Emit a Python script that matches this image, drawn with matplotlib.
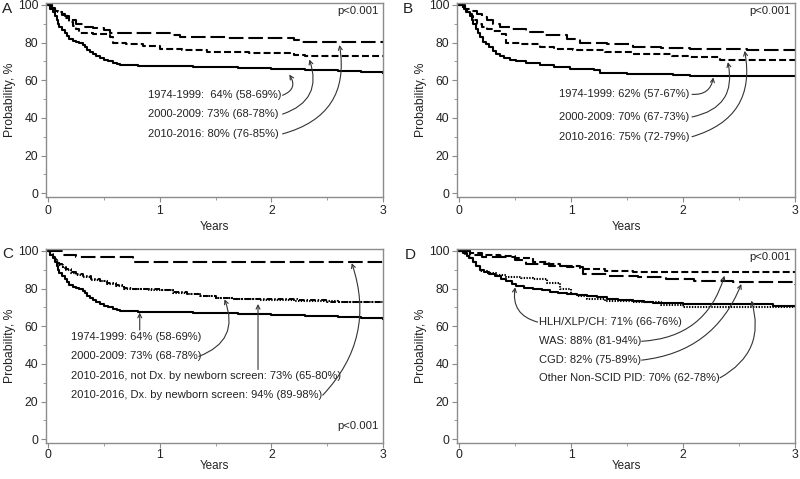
import matplotlib
matplotlib.use("Agg")
import matplotlib.pyplot as plt
from matplotlib import font_manager

plt.rcParams['font.family'] = ['Liberation Sans', 'DejaVu Sans']
plt.rcParams['lines.scale_dashes'] = False

# the y label in the reference is set in a narrower face
NARROW = 'Liberation Sans Narrow'
if NARROW not in {f.name for f in font_manager.fontManager.ttflist}:
    NARROW = 'Liberation Sans'

# ---- data ----
# Panel A
a_t_7499 = [0, 0.02, 0.04, 0.06, 0.075, 0.09, 0.1, 0.12, 0.15, 0.17, 0.19, 0.22, 0.25, 0.28, 0.31, 0.33, 0.35,
            0.37, 0.4, 0.43, 0.46, 0.5, 0.54, 0.58, 0.62, 0.64, 0.8, 1.0, 1.3, 1.7, 2.0, 2.3, 2.6, 2.8, 3.0]
a_s_7499 = [100, 98, 96, 94, 92, 90, 88, 86.5, 85, 83.5, 82, 81, 80.3, 79.6, 78.5, 77.5, 76.3,
            75, 74, 72.8, 72, 71, 70, 69, 68.5, 68, 67.8, 67.5, 67, 66.5, 66, 65.3, 64.8, 64.2, 64]
a_t_0009 = [0, 0.03, 0.06, 0.09, 0.12, 0.15, 0.19, 0.22, 0.25, 0.28, 0.4, 0.55, 0.58, 0.7, 0.85, 1.0, 1.2,
            1.42, 1.8, 2.2, 2.3, 3.0]
a_s_0009 = [100, 98.5, 97, 96, 94.5, 93, 91, 89, 87, 85, 84.5, 83, 79.6, 79, 78, 76.5, 76,
            75, 74.5, 73.5, 73, 73]
a_t_1016 = [0, 0.03, 0.06, 0.09, 0.12, 0.15, 0.19, 0.25, 0.31, 0.4, 0.5, 0.55, 0.8, 1.12, 1.18, 1.6, 2.2, 2.27, 3.0]
a_s_1016 = [100, 98.5, 97, 96, 95, 94, 92, 90, 88.5, 87.5, 86.7, 85.3, 85, 84, 83, 82.5, 81.4, 80.4, 80]
a_labels = ["1974-1999:  64% (58-69%)", "2000-2009: 73% (68-78%)", "2010-2016: 80% (76-85%)"]

# Panel B
b_t_7499 = [0, 0.04, 0.07, 0.095, 0.11, 0.125, 0.15, 0.17, 0.185, 0.21, 0.24, 0.27, 0.3, 0.33, 0.36, 0.4,
            0.45, 0.51, 0.6, 0.72, 0.85, 0.99, 1.2, 1.26, 1.5, 1.91, 2.06, 3.0]
b_s_7499 = [100, 98, 96, 95, 92, 90, 87, 85, 83, 80.5, 79, 77.6, 75.5, 74, 73, 72,
            71, 70, 69, 68, 67, 66, 65.3, 64, 63.5, 63, 62, 62]
b_t_0009 = [0, 0.03, 0.06, 0.095, 0.12, 0.155, 0.2, 0.25, 0.3, 0.36, 0.42, 0.55, 0.72, 0.85, 1.02, 1.3,
            1.55, 1.9, 2.06, 2.33, 2.6, 3.0]
b_s_0009 = [100, 98, 96, 94, 92, 90, 88.5, 87, 86, 84.7, 80, 79, 77.6, 76.5, 75.8, 75,
            74, 73, 72.3, 71, 70.5, 70]
b_t_1016 = [0, 0.05, 0.1, 0.155, 0.2, 0.25, 0.3, 0.36, 0.45, 0.6, 0.75, 0.96, 1.08, 1.32, 1.55, 1.8, 2.06, 2.57, 3.0]
b_s_1016 = [100, 98, 96.5, 95, 93.5, 92, 90, 88.5, 87, 85.5, 84, 82, 80, 79.4, 77.6, 77, 76.7, 75.8, 75.5]
b_labels = ["1974-1999: 62% (57-67%)", "2000-2009: 70% (67-73%)", "2010-2016: 75% (72-79%)"]

# Panel C (1974-1999 curve is the same cohort as panel A)
c_t_0009 = [0, 0.02, 0.04, 0.06, 0.075, 0.1, 0.13, 0.16, 0.2, 0.25, 0.31, 0.38, 0.46, 0.53, 0.61, 0.68,
            0.76, 0.9, 1.0, 1.12, 1.24, 1.36, 1.5, 1.66, 1.9, 2.2, 2.6, 3.0]
c_s_0009 = [100, 98, 96.5, 95, 94, 92.5, 91, 90, 88.5, 87, 86, 84.5, 84, 82.5, 81.5, 80,
            79.7, 79.3, 79, 77.6, 77, 76, 74.8, 74.5, 74, 73.5, 73, 73]
c_t_nonbs = [0, 0.02, 0.04, 0.06, 0.075, 0.1, 0.13, 0.16, 0.2, 0.25, 0.31, 0.38, 0.46, 0.53, 0.61, 0.68,
             0.76, 0.9, 1.0, 1.12, 1.24, 1.36, 1.5, 1.66, 1.9, 2.25, 2.5, 3.0]
c_s_nonbs = [100, 98.5, 97, 95.5, 94.5, 93, 91.5, 90.5, 89, 87.5, 86.5, 85, 84, 83, 82, 80.5,
             80, 79.5, 79.2, 78, 77, 76.2, 75, 74.5, 74.2, 74, 73, 73]
c_t_nbs = [0, 0.13, 0.25, 0.76, 3.0]
c_s_nbs = [100, 98, 96.5, 94.2, 94]
c_labels = ["1974-1999: 64% (58-69%)", "2000-2009: 73% (68-78%)",
            "2010-2016, not Dx. by newborn screen: 73% (65-80%)",
            "2010-2016, Dx. by newborn screen: 94% (89-98%)"]

# Panel D
d_t_hlh = [0, 0.03, 0.065, 0.09, 0.125, 0.15, 0.185, 0.22, 0.27, 0.32, 0.37, 0.42, 0.47, 0.51, 0.58, 0.66,
           0.74, 0.81, 0.88, 0.96, 1.05, 1.14, 1.23, 1.32, 1.42, 1.55, 1.65, 1.73, 2.0, 2.45, 2.8, 3.0]
d_s_hlh = [100, 99, 97.4, 96, 94, 92, 90, 89, 87.7, 86.5, 85, 84, 82.5, 81.5, 80.5, 79.7,
           79, 78, 77.5, 77, 76.5, 76, 75.3, 74.5, 74, 73.6, 73, 72.4, 72, 71.7, 71, 71]
d_t_was = [0, 0.1, 0.2, 0.36, 0.5, 0.66, 0.8, 0.9, 1.08, 1.3, 1.55, 3.0]
d_s_was = [100, 99, 98, 97.4, 96, 94, 93, 92, 90.3, 89.5, 88.6, 88]
d_t_cgd = [0, 0.1, 0.2, 0.36, 0.5, 0.6, 0.8, 0.96, 1.11, 1.32, 1.6, 1.85, 2.1, 2.45, 3.0]
d_s_cgd = [100, 98, 97, 96.5, 95, 93, 92, 91.2, 87.7, 86.8, 86, 85, 84, 83.3, 82]
d_t_oth = [0, 0.05, 0.1, 0.125, 0.15, 0.185, 0.25, 0.33, 0.42, 0.55, 0.66, 0.78, 0.9, 1.0, 1.05, 1.14,
           1.3, 1.55, 1.8, 2.0, 3.0]
d_s_oth = [100, 98, 96, 94, 92, 89.4, 88, 87, 86, 85.5, 85, 83, 79.7, 77, 76, 74.5,
           73.5, 72.7, 71.5, 70, 70]
d_labels = ["HLH/XLP/CH: 71% (66-76%)", "WAS: 88% (81-94%)", "CGD: 82% (75-89%)",
            "Other Non-SCID PID: 70% (62-78%)"]

x_ticks = [0, 1, 2, 3]
y_ticks = [0, 20, 40, 60, 80, 100]

SOLID = dict(color='black', lw=1.5)
SHORT = dict(color='black', lw=1.5, dashes=(5, 2.3))
LONG = dict(color='black', lw=1.5, dashes=(10.5, 3.5))
DOT = dict(color='black', lw=1.5, dashes=(1, 1))
DASHDOT = dict(color='black', lw=1.4, dashes=(4, 1.5, 1, 1.5))
TXT = '#222222'

fig = plt.figure(figsize=(8, 4.79), dpi=100)
W, H = 800, 479


def make_axes(left, top, right, bottom):
    return fig.add_axes([left / W, 1 - bottom / H, (right - left) / W, (bottom - top) / H])


def style(ax, xlab_y, xpad):
    ax.set_xlim(-0.02, 3)
    ax.set_ylim(-2, 101)
    ax.set_xticks(x_ticks)
    ax.set_yticks(y_ticks)
    ax.set_xticks([0.5, 1.5, 2.5], minor=True)
    ax.set_yticks([10, 30, 50, 70, 90], minor=True)
    for s in ax.spines.values():
        s.set_color('#8c8c8c')
        s.set_linewidth(1.0)
    ax.tick_params(which='both', direction='out', color='#8c8c8c', labelsize=8.8,
                   labelcolor=TXT)
    ax.tick_params(which='major', length=3.5)
    ax.tick_params(which='minor', length=2.5)
    ax.tick_params(axis='y', pad=2)
    ax.tick_params(axis='x', pad=xpad)
    ax.set_xlabel('Years', fontsize=8.4, color=TXT, va='center')
    ax.set_ylabel('Probability, %', fontsize=8.8, color=TXT, va='center',
                  family=[NARROW, 'DejaVu Sans'])
    ax.xaxis.set_label_coords(0.5, xlab_y)
    ax.yaxis.set_label_coords(-0.107, 0.5)


def arrow(ax, start, tip, rad):
    ax.annotate('', xy=tip, xytext=start,
                arrowprops=dict(arrowstyle='->', color='#333333', lw=0.8,
                                shrinkA=0, shrinkB=0, mutation_scale=7,
                                connectionstyle='arc3,rad=%s' % rad))


def label(ax, x, y, s):
    ax.text(x, y, s, fontsize=8.0, ha='left', va='center', color=TXT)


def pval(ax, y):
    ax.text(2.96, y, 'p<0.001', fontsize=8.2, ha='right', va='center', color=TXT)


def letter(x, y, s):
    fig.text(x / W, 1 - y / H, s, fontsize=11, va='baseline', color=TXT)


# ---- A ----
ax = make_axes(46, 3, 383, 197)
style(ax, -0.155, 2.5)
ax.step(a_t_7499, a_s_7499, where='post', **SOLID)
ax.step(a_t_0009, a_s_0009, where='post', **SHORT)
ax.step(a_t_1016, a_s_1016, where='post', **LONG)
for y, s in zip([52, 42, 31.5], a_labels):
    label(ax, 0.89, y, s)
arrow(ax, (2.1, 52), (2.16, 63), 0.6)
arrow(ax, (2.1, 42), (2.34, 71), 0.5)
arrow(ax, (2.1, 31.5), (2.61, 78.7), 0.45)
pval(ax, 96.5)
letter(2, 13, 'A')

# ---- B ----
ax = make_axes(457, 3, 795, 197)
style(ax, -0.155, 2.5)
ax.step(b_t_7499, b_s_7499, where='post', **SOLID)
ax.step(b_t_0009, b_s_0009, where='post', **SHORT)
ax.step(b_t_1016, b_s_1016, where='post', **LONG)
for y, s in zip([52.5, 40.5, 30], b_labels):
    label(ax, 0.89, y, s)
arrow(ax, (2.08, 52.5), (2.27, 61.5), 0.45)
arrow(ax, (2.08, 40.5), (2.40, 69.6), 0.5)
arrow(ax, (2.08, 30), (2.55, 75.6), 0.45)
pval(ax, 96.5)
letter(403, 13, 'B')

# ---- C ----
ax = make_axes(46, 249, 383, 443)
style(ax, -0.12, 1)
ax.step(c_t_nbs, c_s_nbs, where='post', **LONG)
ax.step(c_t_nonbs, c_s_nonbs, where='post', **DASHDOT)
ax.step(c_t_0009, c_s_0009, where='post', **DOT)
ax.step(a_t_7499, a_s_7499, where='post', **SOLID)
for y, s in zip([54.3, 44, 33.6, 23.4], c_labels):
    label(ax, 0.2, y, s)
arrow(ax, (0.82, 58), (0.82, 67.2), 0)
arrow(ax, (1.35, 44), (1.58, 74.3), 0.5)
arrow(ax, (1.88, 37), (1.88, 71.8), 0)
arrow(ax, (2.46, 23.4), (2.72, 93.5), 0.3)
pval(ax, 7)
letter(2, 258, 'C')

# ---- D ----
ax = make_axes(457, 249, 795, 443)
style(ax, -0.12, 1)
ax.step(d_t_was, d_s_was, where='post', **SHORT)
ax.step(d_t_cgd, d_s_cgd, where='post', **LONG)
ax.step(d_t_oth, d_s_oth, where='post', **DOT)
ax.step(d_t_hlh, d_s_hlh, where='post', **SOLID)
for y, s in zip([62.2, 52, 42, 32.6], d_labels):
    label(ax, 0.71, y, s)
arrow(ax, (0.70, 62.2), (0.50, 80.7), -0.45)
arrow(ax, (1.63, 52), (2.37, 86.8), 0.35)
arrow(ax, (1.63, 42), (2.52, 82.4), 0.3)
arrow(ax, (2.33, 32.6), (2.61, 73.6), 0.4)
pval(ax, 96.5)
letter(405, 259, 'D')

fig.savefig('out.png', dpi=100)
